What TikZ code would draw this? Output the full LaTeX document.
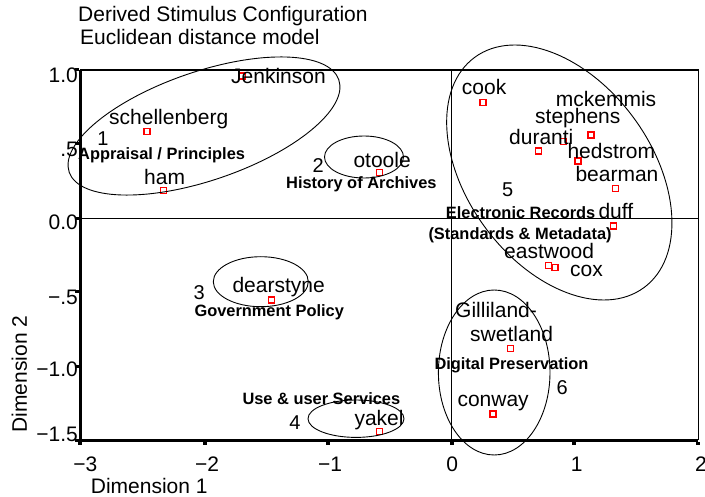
\documentclass[tikz,border=0pt]{standalone}
\usepackage{fontspec}
\setmainfont{Liberation Sans}
\begin{document}
\begin{tikzpicture}[x=1pt,y=-1pt]
      \useasboundingbox (0,0) rectangle (705,497);
      % corners of the plot
      \coordinate (tl) at (80,70);
      \coordinate (tr) at (698.3,70);
      \coordinate (bl) at (80,440);
      \coordinate (br) at (698.3,440);
      \coordinate (xt) at (451.7,70);
      \coordinate (xb) at (451.7,440);
      \coordinate (yl) at (80,218.3);
      \coordinate (yr) at (698.3,218.3);
      \draw[line width=1.3pt] (tl) -- (tr) -- (br);
      \draw[line width=3pt] (tl) -- (bl) -- (br);
      \draw[line width=1.1pt] (xt) -- (xb);
      \draw[line width=1.1pt] (yl) -- (yr);
      % ticks
      \begin{scope}[every node/.style={fill=black,inner sep=0pt,minimum width=4pt,minimum height=3pt}]
        \node (tx1) at (80,443) {};
        \node (tx2) at (204.7,443) {};
        \node (tx3) at (327.7,443) {};
        \node (tx4) at (451.7,443) {};
        \node (tx5) at (574.3,443) {};
        \node (tx6) at (698.3,443) {};
        \node (ty1) at (77,70) {};
        \node (ty2) at (77,143.3) {};
        \node (ty3) at (77,218.3) {};
        \node (ty4) at (77,291.5) {};
        \node (ty5) at (77,366.7) {};
        \node (ty6) at (77,440) {};
      \end{scope}
      % tick labels and titles
      \begin{scope}[every node/.style={inner sep=0pt,font=\fontsize{21}{25}\selectfont}]
        \node[anchor=base east] (l1) at (78,82.7) {1.0};
        \node[anchor=base east] (l2) at (78,156.5) {.5};
        \node[anchor=base east] (l3) at (78,230) {0.0};
        \node[anchor=base east] (l4) at (78,305) {−.5};
        \node[anchor=base east] (l5) at (78,376.7) {−1.0};
        \node[anchor=base east] (l6) at (78,441.7) {−1.5};
        \node[anchor=base] (k1) at (85.3,471) {−3};
        \node[anchor=base] (k2) at (207.2,471) {−2};
        \node[anchor=base] (k3) at (330,471) {−1};
        \node[anchor=base] (k4) at (452.3,471) {0};
        \node[anchor=base] (k5) at (576.7,471) {1};
        \node[anchor=base] (k6) at (701,471) {2};
        \node[anchor=base west] (title) at (78,22) {Derived Stimulus Configuration};
        \node[anchor=base west] (model) at (80,45) {Euclidean distance model};
        \node[anchor=base west] (dim1) at (90.7,493.3) {Dimension 1};
        \node[anchor=base,rotate=90] (dim2) at (27,374) {Dimension 2};
      \end{scope}
      % points
      \begin{scope}[every node/.style={draw=red,line width=1.2pt,minimum size=6pt,inner sep=0pt}]
        \node (jenkinson) at (242.7,76) {};
        \node (schellenberg) at (147,131.7) {};
        \node (ham) at (163.3,190.7) {};
        \node (otoole) at (379.7,172.3) {};
        \node (dearstyne) at (271.7,300) {};
        \node (yakel) at (379.7,431.7) {};
        \node (cook) at (483,102.7) {};
        \node (mckemmis) at (591,135) {};
        \node (stephens) at (563.3,141.3) {};
        \node (duranti) at (538.7,151) {};
        \node (hedstrom) at (578,161) {};
        \node (bearman) at (615.7,188.7) {};
        \node (duff) at (613.7,226) {};
        \node (eastwood) at (548.3,265.7) {};
        \node (cox) at (555,267.3) {};
        \node (swetland) at (510.7,348.3) {};
        \node (conway) at (493,414) {};
      \end{scope}
      % point names
      \begin{scope}[every node/.style={anchor=base west,inner sep=0pt,font=\fontsize{21}{25}\selectfont}]
        \node (n1) at (231,84) {Jenkinson};
        \node (n2) at (109,125) {schellenberg};
        \node (n3) at (144,184.3) {ham};
        \node (n4) at (353.3,167.3) {otoole};
        \node (n5) at (232.3,292.7) {dearstyne};
        \node (n6) at (354.3,425) {yakel};
        \node (n7) at (461.7,95) {cook};
        \node (n8) at (555.7,106.7) {mckemmis};
        \node (n9) at (535,124) {stephens};
        \node (n10) at (509,145) {duranti};
        \node (n11) at (567.3,159) {hedstrom};
        \node (n12) at (575.3,181.7) {bearman};
        \node (n13) at (598.3,219) {duff};
        \node (n14) at (504,258.3) {eastwood};
        \node (n15) at (570,276.7) {cox};
        \node (n16) at (455,317.3) {Gilliland-};
        \node (n17) at (470,341.7) {swetland};
        \node (n18) at (457.3,406.7) {conway};
      \end{scope}
      % cluster numbers
      \begin{scope}[every node/.style={anchor=base,inner sep=0pt,font=\fontsize{20}{24}\selectfont}]
        \node (c1) at (103,145.7) {1};
        \node (c2) at (318.3,172.3) {2};
        \node (c3) at (199.3,300) {3};
        \node (c4) at (295,429.3) {4};
        \node (c5) at (507.7,196.7) {5};
        \node (c6) at (562.3,395) {6};
      \end{scope}
      % cluster names
      \begin{scope}[every node/.style={anchor=base west,inner sep=0pt,font=\fontsize{16.4}{19}\selectfont\bfseries}]
        \node (g1) at (78,159.3) {Appraisal / Principles};
        \node (g2) at (286,188.3) {History of Archives};
        \node (g3) at (194.3,316.7) {Government Policy};
        \node (g4) at (242.3,404) {Use \& user Services};
        \node (g5) at (445.7,219) {Electronic Records};
        \node (g5b) at (428.3,240) {(Standards \& Metadata)};
        \node (g6) at (434.3,369.3) {Digital Preservation};
      \end{scope}
      % clusters
      \begin{scope}[line width=0.9pt]
        \draw[rotate around={18.9:(204,126)}] (204,126) ellipse [x radius=142.5, y radius=54.3];
        \draw (364,157) ellipse [x radius=39.5, y radius=21];
        \draw (260.8,281.7) ellipse [x radius=47.5, y radius=25];
        \draw (356,418.7) ellipse [x radius=48, y radius=18.7];
        \draw[rotate around={-53.7:(559.3,172.5)}] (559.3,172.5) ellipse [x radius=142.9, y radius=92.3];
        \draw (494.2,372.5) ellipse [x radius=55.8, y radius=82.5];
      \end{scope}
    \end{tikzpicture}
\end{document}
